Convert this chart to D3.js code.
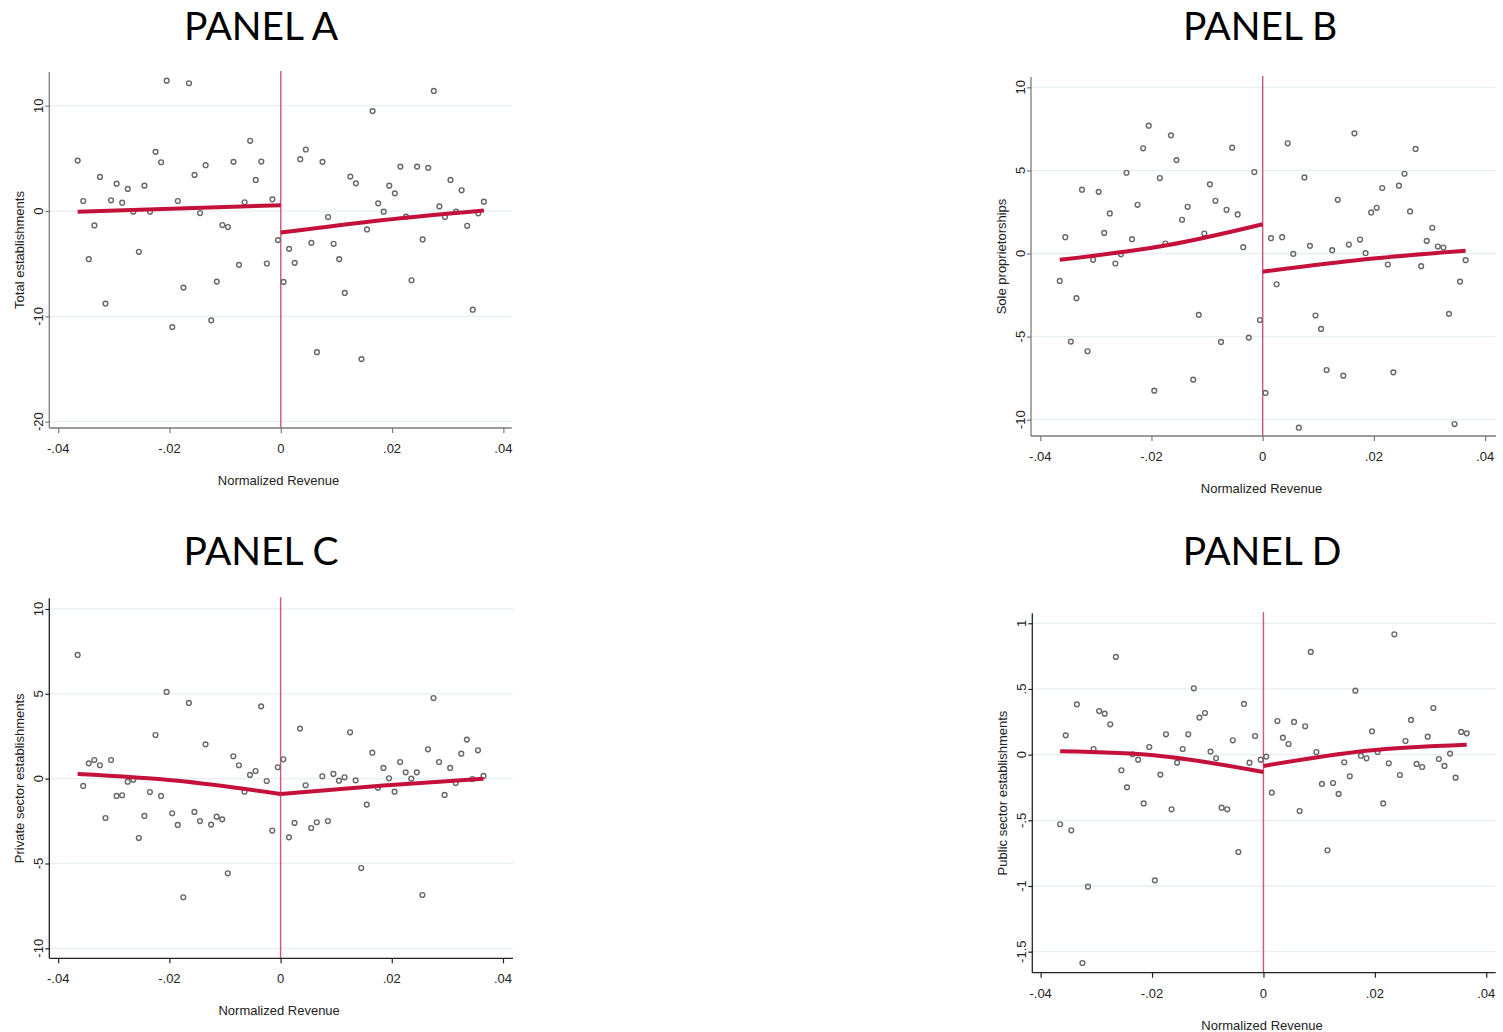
<!DOCTYPE html>
<html>
<head>
<meta charset="utf-8">
<script src="https://cdn.jsdelivr.net/npm/d3@7"></script>
<style>
  body { margin: 0; background: #fff; }
  svg { display: block; }
</style>
</head>
<body>
<svg id="chart" width="1503" height="1032"></svg>
<script>
// 分箱中心 (Normalized Revenue)
const normRevenue = [
  -0.0365, -0.0355, -0.0345, -0.0335, -0.0325, -0.0315, -0.0305, -0.0295, -0.0285, -0.0275,
  -0.0265, -0.0255, -0.0245, -0.0235, -0.0225, -0.0215, -0.0205, -0.0195, -0.0185, -0.0175,
  -0.0165, -0.0155, -0.0145, -0.0135, -0.0125, -0.0115, -0.0105, -0.0095, -0.0085, -0.0075,
  -0.0065, -0.0055, -0.0045, -0.0035, -0.0025, -0.0015, -0.0005,
  0.0005, 0.0015, 0.0025, 0.0035, 0.0045, 0.0055, 0.0065, 0.0075, 0.0085, 0.0095,
  0.0105, 0.0115, 0.0125, 0.0135, 0.0145, 0.0155, 0.0165, 0.0175, 0.0185, 0.0195,
  0.0205, 0.0215, 0.0225, 0.0235, 0.0245, 0.0255, 0.0265, 0.0275, 0.0285, 0.0295,
  0.0305, 0.0315, 0.0325, 0.0335, 0.0345, 0.0355, 0.0365
];

// Panel A: Total establishments
const totalEstab = [
  4.79, 0.95, -4.57, -1.37, 3.24, -8.79, 1.02, 2.60, 0.79, 2.10, -0.06, -3.87, 2.41, -0.06, 5.62,
  4.63, 12.38, -11.02, 0.95, -7.27, 12.13, 3.43, -0.19, 4.35, -10.38, -6.70, -1.33, -1.52, 4.67,
  -5.11, 0.83, 6.67, 2.95, 4.70, -4.98, 1.11, -2.76,
  -6.73, -3.59, -4.92, 4.92, 5.84, -3.02, -13.40, 4.67, -0.57, -3.11, -4.57, -7.78, 3.27, 2.63,
  -14.06, -1.75, 9.49, 0.73, -0.06, 2.41, 1.68, 4.22, -0.54, -6.57, 4.22, -2.70, 4.10, 11.40,
  0.44, -0.57, 2.95, -0.06, 1.97, -1.40, -9.37, -0.22, 0.89
];

// Panel B: Sole proprietorships
const soleProp = [
  -1.65, 0.98, -5.30, -2.69, 3.84, -5.88, -0.38, 3.71, 1.24, 2.41, -0.60, -0.05, 4.86, 0.86, 2.93,
  6.33, 7.69, -8.25, 4.54, 0.60, 7.11, 5.62, 2.03, 2.81, -7.59, -3.69, 1.20, 4.16, 3.17, -5.32,
  2.63, 6.37, 2.35, 0.38, -5.06, 4.90, -4.00,
  -8.39, 0.92, -1.85, 0.98, 6.63, -0.02, -10.48, 4.58, 0.46, -3.73, -4.54, -7.01, 0.20, 3.23,
  -7.35, 0.54, 7.23, 0.84, 0.02, 2.47, 2.75, 3.94, -0.66, -7.15, 4.08, 4.80, 2.53, 6.29, -0.76,
  0.76, 1.55, 0.42, 0.36, -3.63, -10.26, -1.69, -0.40
];

// Panel C: Private sector establishments
const privateEstab = [
  7.29, -0.43, 0.90, 1.10, 0.79, -2.32, 1.10, -1.02, -0.98, -0.18, -0.06, -3.50, -2.20, -0.79,
  2.57, -1.02, 5.11, -2.04, -2.73, -6.99, 4.46, -1.96, -2.50, 2.02, -2.71, -2.24, -2.40, -5.58,
  1.32, 0.79, -0.77, 0.22, 0.45, 4.26, -0.14, -3.06, 0.67,
  1.14, -3.46, -2.61, 2.95, -0.39, -2.91, -2.57, 0.14, -2.50, 0.28, -0.12, 0.08, 2.73, -0.10,
  -5.27, -1.53, 1.53, -0.53, 0.63, 0.02, -0.77, 0.98, 0.37, 0.00, 0.37, -6.86, 1.73, 4.75, 0.98,
  -0.96, 0.63, -0.26, 1.47, 2.30, -0.02, 1.67, 0.16
];

// Panel D: Public sector establishments
const publicEstab = [
  -0.530, 0.147, -0.576, 0.383, -1.586, -1.005, 0.043, 0.332, 0.312, 0.231, 0.744, -0.119,
  -0.249, 0.003, -0.038, -0.371, 0.058, -0.957, -0.152, 0.155, -0.416, -0.061, 0.043, 0.155,
  0.505, 0.282, 0.317, 0.023, -0.028, -0.404, -0.416, 0.109, -0.741, 0.386, -0.061, 0.142, -0.038,
  -0.015, -0.289, 0.256, 0.129, 0.081, 0.249, -0.429, 0.216, 0.782, 0.020, -0.223, -0.728,
  -0.216, -0.299, -0.058, -0.165, 0.487, -0.008, -0.028, 0.178, 0.020, -0.371, -0.066, 0.916,
  -0.155, 0.104, 0.264, -0.071, -0.094, 0.137, 0.355, -0.033, -0.086, 0.008, -0.175, 0.173, 0.162
];

// 拟合线 (左侧 / 右侧)
const fitA = [[[-0.0365, -0.06], [0, 0.55]], [[0, -2.05], [0.0185, -0.85], [0.0365, 0.06]]];
const fitB = [[[-0.0365, -0.38], [-0.0175, 0.48], [0, 1.76]], [[0, -1.10], [0.0185, -0.35], [0.0365, 0.16]]];
const fitC = [[[-0.0365, 0.28], [-0.0185, -0.12], [0, -0.90]], [[0, -0.90], [0.0185, -0.40], [0.0365, 0.00]]];
const fitD = [[[-0.0365, 0.025], [-0.0185, -0.01], [0, -0.132]], [[0, -0.086], [0.0185, 0.03], [0.0365, 0.076]]];

// 标题与刻度
const panelTitles = ['PANEL A', 'PANEL B', 'PANEL C', 'PANEL D'];
const yTitles = ['Total establishments', 'Sole proprietorships', 'Private sector establishments', 'Public sector establishments'];
const xTitle = 'Normalized Revenue';
const xTicks = [-0.04, -0.02, 0, 0.02, 0.04];
const yTicksA = [10, 0, -10, -20];
const yTicksB = [10, 5, 0, -5, -10];
const yTicksC = [10, 5, 0, -5, -10];
const yTicksD = [1, 0.5, 0, -0.5, -1, -1.5];

// 面板布局 (像素)
const panels = [
  { values: totalEstab, fit: fitA, yTicks: yTicksA, x0: 49.3, x1: 511.7, y0: 72, y1: 428,
    xDom: [-0.0416, 0.0415], yDom: [-20.6, 13.2], titleX: 261, titleY: 40, axisColor: '#7a7a7a' },
  { values: soleProp, fit: fitB, yTicks: yTicksB, x0: 1031, x1: 1496, y0: 77, y1: 436,
    xDom: [-0.04167, 0.04196], yDom: [-10.98, 10.62], titleX: 1260, titleY: 40, axisColor: '#7a7a7a' },
  { values: privateEstab, fit: fitC, yTicks: yTicksC, x0: 49.3, x1: 513, y0: 598.3, y1: 958.3,
    xDom: [-0.0416, 0.0418], yDom: [-10.59, 10.63], titleX: 261, titleY: 565, axisColor: '#222' },
  { values: publicEstab, fit: fitD, yTicks: yTicksD, x0: 1032.3, x1: 1495.7, y0: 613.3, y1: 972.7,
    xDom: [-0.0415, 0.0417], yDom: [-1.66, 1.076], titleX: 1262, titleY: 565, axisColor: '#222' }
];

const fmt = v => String(+v.toFixed(4)).replace(/^(-?)0\./, '$1.');
const svg = d3.select('#chart');

panels.forEach((p, i) => {
  const x = d3.scaleLinear().domain(p.xDom).range([p.x0, p.x1]);
  const y = d3.scaleLinear().domain(p.yDom).range([p.y1, p.y0]);
  const g = svg.append('g').attr('class', 'panel');

  // 标题
  svg.append('text')
    .attr('x', p.titleX).attr('y', p.titleY)
    .attr('text-anchor', 'middle')
    .style('font-family', 'Lato, "Open Sans", sans-serif')
    .style('font-size', '39px')
    .attr('fill', '#000')
    .text(panelTitles[i]);

  // 网格线
  g.append('g').selectAll('line')
    .data(p.yTicks)
    .enter().append('line')
    .attr('x1', p.x0).attr('x2', p.x1)
    .attr('y1', d => y(d)).attr('y2', d => y(d))
    .attr('stroke', '#e8eff1')
    .attr('stroke-width', 1.3);

  // 断点竖线
  g.append('line')
    .attr('x1', x(0)).attr('x2', x(0))
    .attr('y1', p.y0 - 1).attr('y2', p.y1)
    .attr('stroke', '#cf5675')
    .attr('stroke-width', 1.4);

  // 坐标轴
  const yAxis = d3.axisLeft(y).tickValues(p.yTicks).tickSize(4).tickFormat('');
  const xAxis = d3.axisBottom(x).tickValues(xTicks).tickSize(5).tickFormat('');
  const ya = g.append('g').attr('transform', `translate(${p.x0},0)`).call(yAxis);
  const xa = g.append('g').attr('transform', `translate(0,${p.y1})`).call(xAxis);
  [ya, xa].forEach(a => {
    a.select('.domain').attr('stroke', p.axisColor).attr('stroke-width', 1.3)
      .attr('d', a === ya ? `M0,${p.y0}V${p.y1}` : `M${p.x0},0H${p.x1}`);
    a.selectAll('.tick line').attr('stroke', p.axisColor).attr('stroke-width', 1.2);
  });

  // 刻度标签
  g.append('g').selectAll('text')
    .data(p.yTicks)
    .enter().append('text')
    .attr('transform', d => `translate(${p.x0 - 6},${y(d)}) rotate(-90)`)
    .attr('text-anchor', 'middle')
    .style('font-family', '"Liberation Sans", Arial, sans-serif')
    .style('font-size', '13px')
    .attr('fill', '#222')
    .text(fmt);

  g.append('g').selectAll('text')
    .data(xTicks)
    .enter().append('text')
    .attr('x', d => x(d)).attr('y', p.y1 + 25)
    .attr('text-anchor', 'middle')
    .style('font-family', '"Liberation Sans", Arial, sans-serif')
    .style('font-size', '13px')
    .attr('fill', '#222')
    .text(fmt);

  // 轴标题
  g.append('text')
    .attr('x', (p.x0 + p.x1) / 2 - 2).attr('y', p.y1 + 57)
    .attr('text-anchor', 'middle')
    .style('font-family', '"Liberation Sans", Arial, sans-serif')
    .style('font-size', '13px')
    .attr('fill', '#222')
    .text(xTitle);

  g.append('text')
    .attr('transform', `translate(${p.x0 - 25},${(p.y0 + p.y1) / 2}) rotate(-90)`)
    .attr('text-anchor', 'middle')
    .style('font-family', '"Liberation Sans", Arial, sans-serif')
    .style('font-size', '13px')
    .attr('fill', '#222')
    .text(yTitles[i]);

  // 散点
  g.append('g').selectAll('circle')
    .data(p.values)
    .enter().append('circle')
    .attr('cx', (d, j) => x(normRevenue[j]))
    .attr('cy', d => y(d))
    .attr('r', 2.4)
    .attr('fill', 'none')
    .attr('stroke', '#686868')
    .attr('stroke-width', 1.4);

  // 拟合线
  const line = d3.line()
    .x(d => x(d[0])).y(d => y(d[1]))
    .curve(d3.curveNatural);
  g.append('g').selectAll('path')
    .data(p.fit)
    .enter().append('path')
    .attr('d', line)
    .attr('fill', 'none')
    .attr('stroke', '#c4113b')
    .attr('stroke-width', 4);
});
</script>
</body>
</html>
